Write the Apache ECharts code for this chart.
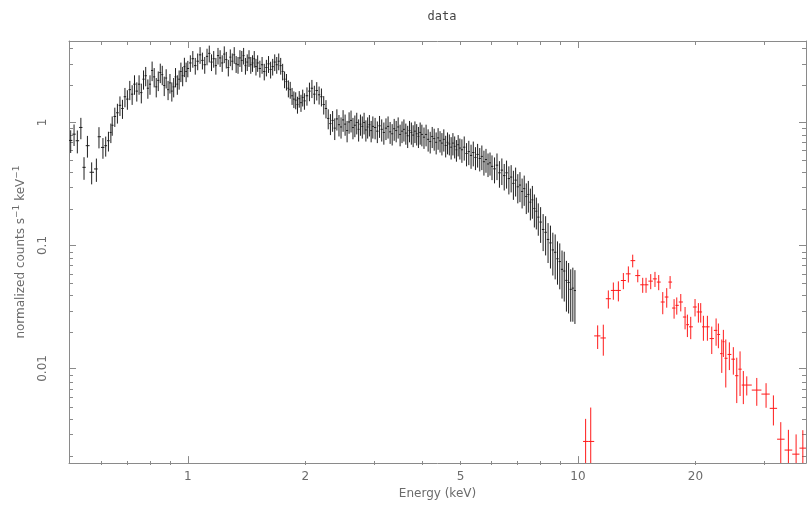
<!DOCTYPE html>
<html><head><meta charset="utf-8">
<script src="https://cdn.jsdelivr.net/npm/echarts@6/dist/echarts.min.js"></script>
<style>html,body{margin:0;padding:0;background:#fff}#c{width:807px;height:505px}</style>
</head><body><div id="c"></div>
<script>
// ---- black spectrum: energy (keV), rate, 1-sigma error ----
const blackEnergy = [
  0.501, 0.511, 0.521, 0.532, 0.542, 0.553, 0.567, 0.583, 0.592, 0.606, 0.616, 0.626, 0.635,
  0.64, 0.65, 0.66, 0.67, 0.68, 0.69, 0.70, 0.71, 0.72, 0.73, 0.74,
  0.75, 0.76, 0.77, 0.78, 0.79, 0.80, 0.81, 0.82, 0.83, 0.84, 0.85, 0.86, 0.87, 0.88, 0.89, 0.90, 0.91, 0.92, 0.93, 0.94, 0.95, 0.96, 0.97, 0.98, 0.99,
  1.000, 1.015, 1.030, 1.045, 1.060, 1.075, 1.090, 1.105, 1.120, 1.135, 1.150, 1.165, 1.180, 1.195, 1.210, 1.225, 1.240, 1.255, 1.270, 1.285, 1.300, 1.315, 1.330, 1.345, 1.360, 1.375, 1.390, 1.405, 1.420, 1.435, 1.450, 1.465, 1.480, 1.495,
  1.51, 1.53, 1.55, 1.57, 1.59, 1.61, 1.63, 1.65, 1.67, 1.69, 1.71, 1.73, 1.75, 1.77, 1.79, 1.81, 1.83, 1.85, 1.87, 1.89, 1.91, 1.93, 1.95, 1.97, 1.99,
  2.02, 2.05, 2.08, 2.11, 2.14, 2.17, 2.20, 2.23, 2.26, 2.29, 2.32, 2.35, 2.38, 2.41, 2.44, 2.47, 2.50, 2.53, 2.56, 2.59, 2.62, 2.65, 2.68, 2.71, 2.74, 2.77, 2.80, 2.83, 2.86, 2.89, 2.92, 2.95, 2.98,
  3.02, 3.06, 3.10, 3.14, 3.18, 3.22, 3.26, 3.30, 3.34, 3.38, 3.42, 3.46, 3.50, 3.54, 3.58, 3.62, 3.66, 3.70, 3.74, 3.78, 3.82, 3.86, 3.90, 3.94, 3.98,
  4.03, 4.08, 4.13, 4.18, 4.23, 4.28, 4.33, 4.38, 4.43, 4.48, 4.53, 4.58, 4.63, 4.68, 4.73, 4.78, 4.83, 4.88, 4.93, 4.98,
  5.04, 5.11, 5.18, 5.25, 5.32, 5.39, 5.46, 5.53, 5.60, 5.67, 5.74, 5.81, 5.88, 5.95,
  6.02, 6.11, 6.20, 6.29, 6.38, 6.47, 6.56, 6.65, 6.74, 6.83, 6.92, 7.01, 7.10, 7.19, 7.28, 7.37, 7.46, 7.55, 7.64, 7.73, 7.82, 7.91,
  8.02, 8.14, 8.26, 8.38, 8.50, 8.62, 8.74, 8.86, 8.98, 9.10, 9.22, 9.34, 9.46, 9.58, 9.70, 9.82
];
const blackRate = [
  0.715, 0.804, 0.711, 0.911, 0.432, 0.648, 0.394, 0.419, 0.766, 0.627, 0.648, 0.711, 0.83,
  0.95, 1.12, 1.20, 1.38, 1.30, 1.62, 1.55, 1.85, 1.70, 2.05, 1.80,
  2.05, 1.75, 2.25, 2.40, 1.90, 2.05, 2.65, 2.35, 1.95, 2.20, 2.55, 2.45, 2.00, 2.30, 1.85, 2.10, 1.80, 1.95, 2.35, 2.05, 2.25, 2.60, 2.40, 2.85, 2.60,
  2.75, 3.05, 3.30, 2.90, 3.15, 3.55, 3.20, 2.95, 3.45, 3.65, 3.10, 3.30, 2.90, 3.50, 3.35, 3.05, 3.60, 3.25, 2.80, 3.40, 3.15, 3.55, 3.00, 2.95, 3.35, 3.20, 3.50, 2.90, 3.10, 3.35, 2.95, 3.05, 3.30, 2.85,
  3.05, 2.75, 2.95, 2.60, 2.80, 3.00, 2.70, 2.85, 3.10, 2.95, 3.15, 2.90, 2.60, 2.25, 2.15, 1.90, 1.85, 1.65, 1.55, 1.52, 1.40, 1.56, 1.45, 1.60, 1.50,
  1.65, 1.80, 1.90, 1.70, 1.82, 1.68, 1.62, 1.40, 1.30, 1.08, 0.98, 1.04, 0.90, 1.07, 0.96, 0.92, 1.05, 0.97, 0.86, 1.01, 1.04, 0.91, 0.95, 1.00, 0.88, 0.97, 0.93, 1.00, 0.87, 0.92, 0.96, 0.86, 0.93,
  0.91, 0.85, 0.94, 0.88, 0.83, 0.90, 0.93, 0.84, 0.81, 0.89, 0.86, 0.92, 0.80, 0.85, 0.88, 0.82, 0.78, 0.86, 0.83, 0.79, 0.85, 0.81, 0.77, 0.83, 0.80,
  0.76, 0.80, 0.73, 0.70, 0.77, 0.74, 0.69, 0.75, 0.71, 0.68, 0.73, 0.65, 0.69, 0.67, 0.63, 0.68, 0.64, 0.60, 0.66, 0.62,
  0.60, 0.63, 0.56, 0.58, 0.54, 0.57, 0.52, 0.55, 0.51, 0.53, 0.48, 0.50, 0.46, 0.47,
  0.44, 0.42, 0.45, 0.39, 0.41, 0.37, 0.39, 0.35, 0.36, 0.32, 0.34, 0.30, 0.31, 0.275, 0.29, 0.25, 0.26, 0.225, 0.235, 0.20, 0.19, 0.17,
  0.155, 0.135, 0.128, 0.112, 0.105, 0.092, 0.088, 0.078, 0.074, 0.064, 0.062, 0.052, 0.050, 0.044, 0.045, 0.043
];
const blackError = [
  0.15, 0.16, 0.15, 0.18, 0.09, 0.13, 0.08, 0.09, 0.15, 0.12, 0.12, 0.13, 0.15,
  0.17, 0.20, 0.22, 0.25, 0.23, 0.29, 0.28, 0.33, 0.31, 0.37, 0.32,
  0.37, 0.32, 0.40, 0.43, 0.34, 0.37, 0.48, 0.42, 0.35, 0.40, 0.46, 0.44, 0.36, 0.41, 0.33, 0.38, 0.32, 0.35, 0.42, 0.37, 0.40, 0.47, 0.43, 0.51, 0.47,
  0.42, 0.47, 0.51, 0.45, 0.49, 0.55, 0.50, 0.46, 0.53, 0.57, 0.48, 0.51, 0.45, 0.54, 0.52, 0.47, 0.56, 0.50, 0.43, 0.53, 0.49, 0.55, 0.47, 0.46, 0.52, 0.62, 0.54, 0.45, 0.48, 0.52, 0.46, 0.47, 0.51, 0.44,
  0.47, 0.43, 0.46, 0.40, 0.43, 0.47, 0.42, 0.44, 0.48, 0.46, 0.49, 0.45, 0.40, 0.35, 0.33, 0.30, 0.29, 0.26, 0.24, 0.24, 0.22, 0.24, 0.23, 0.25, 0.23,
  0.28, 0.31, 0.32, 0.29, 0.31, 0.28, 0.27, 0.24, 0.22, 0.20, 0.19, 0.20, 0.18, 0.21, 0.19, 0.18, 0.21, 0.19, 0.17, 0.20, 0.21, 0.18, 0.19, 0.20, 0.18, 0.19, 0.19, 0.20, 0.17, 0.18, 0.19, 0.17, 0.19,
  0.18, 0.17, 0.19, 0.18, 0.17, 0.18, 0.19, 0.17, 0.16, 0.18, 0.17, 0.18, 0.16, 0.17, 0.18, 0.16, 0.16, 0.17, 0.17, 0.16, 0.17, 0.16, 0.15, 0.17, 0.16,
  0.15, 0.16, 0.15, 0.14, 0.15, 0.15, 0.14, 0.15, 0.14, 0.14, 0.15, 0.13, 0.14, 0.13, 0.13, 0.14, 0.13, 0.12, 0.13, 0.12,
  0.13, 0.14, 0.12, 0.13, 0.12, 0.13, 0.11, 0.12, 0.11, 0.12, 0.11, 0.11, 0.10, 0.10,
  0.10, 0.10, 0.11, 0.095, 0.10, 0.09, 0.10, 0.09, 0.09, 0.085, 0.09, 0.08, 0.085, 0.075, 0.08, 0.07, 0.075, 0.065, 0.07, 0.06, 0.055, 0.05,
  0.05, 0.045, 0.045, 0.04, 0.04, 0.035, 0.035, 0.03, 0.03, 0.027, 0.027, 0.023, 0.022, 0.02, 0.021, 0.02
];
// ---- red spectrum ----
const redEnergy = [10.46, 10.78, 11.23, 11.61, 11.96, 12.32, 12.69, 13.07, 13.46, 13.81, 14.23, 14.65, 14.94, 15.36, 15.75, 16.10, 16.49, 16.88, 17.22, 17.63, 17.91, 18.34, 18.81, 19.07, 19.45, 19.95, 20.35, 20.63, 20.96, 21.46, 22.02, 22.59, 22.90, 23.36, 23.58, 23.92, 24.43, 25.01, 25.52, 26.02, 26.53, 27.07, 28.72, 30.34, 31.68, 33.09, 34.61, 36.22, 37.69];
const redRate = [0.00255, 0.00255, 0.0184, 0.0177, 0.0369, 0.0431, 0.0431, 0.0519, 0.0588, 0.0753, 0.0569, 0.0479, 0.0479, 0.0513, 0.0535, 0.0504, 0.0347, 0.0381, 0.0504, 0.0310, 0.0326, 0.0347, 0.0262, 0.0227, 0.0218, 0.0316, 0.0288, 0.0288, 0.0218, 0.0218, 0.0175, 0.0204, 0.0189, 0.0132, 0.0165, 0.0121, 0.0130, 0.0119, 0.00873, 0.00987, 0.00733, 0.00733, 0.00667, 0.00619, 0.00474, 0.00266, 0.00217, 0.00201, 0.00225];
const redError = [0.00134, 0.00226, 0.0040, 0.0050, 0.0062, 0.0069, 0.0080, 0.0078, 0.0088, 0.0089, 0.0067, 0.0067, 0.0067, 0.0072, 0.0075, 0.0071, 0.0071, 0.0069, 0.0060, 0.0056, 0.0052, 0.0056, 0.0054, 0.0047, 0.0045, 0.0051, 0.0052, 0.0052, 0.0050, 0.0050, 0.0044, 0.0051, 0.0043, 0.0040, 0.0041, 0.0051, 0.0033, 0.0030, 0.0035, 0.0039, 0.0022, 0.0013, 0.0017, 0.0014, 0.0013, 0.0010, 0.0010, 0.0009, 0.0009];
// ---- axes ----
const xRange = [0.496, 38.4];
const yRange = [0.0017, 4.6];
const xLabelTicks = [1, 2, 5, 10, 20];
const xMajorTicks = [1, 10];
const xMinorTicks = [0.6, 0.7, 0.8, 0.9, 2, 3, 4, 5, 6, 7, 8, 9, 20, 30];
const yLabelTicks = [0.01, 0.1, 1];
const yMajorTicks = [0.01, 0.1, 1];
const yMinorTicks = [0.002, 0.003, 0.004, 0.005, 0.006, 0.007, 0.008, 0.009,
  0.02, 0.03, 0.04, 0.05, 0.06, 0.07, 0.08, 0.09,
  0.2, 0.3, 0.4, 0.5, 0.6, 0.7, 0.8, 0.9, 2, 3, 4];

function buildRows(E, V, S) {
  return E.map((e, i) => {
    const prev = i > 0 ? E[i - 1] : e * e / E[i + 1];
    const next = i < E.length - 1 ? E[i + 1] : e * e / E[i - 1];
    return [e, V[i], S[i], Math.sqrt(prev * e), Math.sqrt(e * next)];
  });
}
function errSeries(name, rows, color) {
  return {
    type: 'custom', name, xAxisIndex: 0, yAxisIndex: 0, clip: true, silent: true,
    encode: { x: 0, y: 1 }, data: rows,
    renderItem(params, api) {
      const e = api.value(0), v = api.value(1), s = api.value(2), e0 = api.value(3), e1 = api.value(4);
      const lo = Math.max(v - s, yRange[0] * 0.3);
      const t = api.coord([e, v + s]), b = api.coord([e, lo]);
      const l = api.coord([e0, v]), r = api.coord([e1, v]);
      const st = { stroke: color, lineWidth: 1 };
      return { type: 'group', children: [
        { type: 'line', shape: { x1: t[0], y1: t[1], x2: b[0], y2: b[1] }, style: st },
        { type: 'line', shape: { x1: l[0], y1: l[1], x2: r[0], y2: r[1] }, style: st }
      ] };
    }
  };
}
const AX = '#8a8a8a', TXT = '#6b6b6b', FONT = 'DejaVu Sans';
const fmt = v => String(+(+v).toPrecision(4));
function xAxisDef(grid, pos, ticks, len, labels, line) {
  return {
    type: 'log', gridIndex: grid, position: pos, min: xRange[0], max: xRange[1],
    axisLine: { show: line, lineStyle: { color: AX, width: 1 } },
    axisTick: { show: true, inside: true, length: len, customValues: ticks, lineStyle: { color: AX, width: 1 } },
    axisLabel: labels ? { show: true, customValues: xLabelTicks, formatter: fmt, color: TXT, fontFamily: FONT, fontSize: 12, margin: 8 } : { show: false },
    splitLine: { show: false }, minorTick: { show: false },
    name: labels ? 'Energy (keV)' : '', nameLocation: 'middle', nameGap: 24,
    nameTextStyle: { color: TXT, fontFamily: FONT, fontSize: 12 }
  };
}
function yAxisDef(grid, pos, ticks, len, labels, line) {
  return {
    type: 'log', gridIndex: grid, position: pos, min: yRange[0], max: yRange[1],
    axisLine: { show: line, lineStyle: { color: AX, width: 1 } },
    axisTick: { show: true, inside: true, length: len, customValues: ticks, lineStyle: { color: AX, width: 1 } },
    axisLabel: labels ? { show: true, customValues: yLabelTicks, formatter: fmt, rotate: 90, color: TXT, fontFamily: FONT, fontSize: 12, margin: 20 } : { show: false },
    splitLine: { show: false }, minorTick: { show: false },
    name: labels ? 'normalized counts s{sup|−1} keV{sup|−1}' : '', nameLocation: 'middle', nameGap: 40, nameRotate: 90,
    nameTextStyle: { color: TXT, fontFamily: FONT, fontSize: 12,
      rich: { sup: { color: TXT, fontFamily: FONT, fontSize: 9, verticalAlign: 'top', padding: [0, 0, 8, 0] } } }
  };
}
const gridBox = { left: 69, right: 1, top: 41, bottom: 40 };
const chart = echarts.init(document.getElementById('c'), null, { renderer: 'canvas' });
chart.setOption({
  animation: false,
  backgroundColor: '#ffffff',
  title: { text: 'data', left: 437, top: 6, textAlign: 'center',
    textStyle: { color: '#444', fontFamily: 'DejaVu Sans Mono', fontSize: 12, fontWeight: 'normal' } },
  grid: [Object.assign({}, gridBox), Object.assign({}, gridBox)],
  xAxis: [
    xAxisDef(0, 'bottom', xMajorTicks, 7, true, true),
    xAxisDef(0, 'top', xMajorTicks, 7, false, true),
    xAxisDef(1, 'bottom', xMinorTicks, 4, false, false),
    xAxisDef(1, 'top', xMinorTicks, 4, false, false)
  ],
  yAxis: [
    yAxisDef(0, 'left', yMajorTicks, 7, true, true),
    yAxisDef(0, 'right', yMajorTicks, 7, false, true),
    yAxisDef(1, 'left', yMinorTicks, 4, false, false),
    yAxisDef(1, 'right', yMinorTicks, 4, false, false)
  ],
  series: [
    errSeries('black', buildRows(blackEnergy, blackRate, blackError), '#1e1e1e'),
    errSeries('red', buildRows(redEnergy, redRate, redError), '#ff1a1a')
  ]
});
</script></body></html>
